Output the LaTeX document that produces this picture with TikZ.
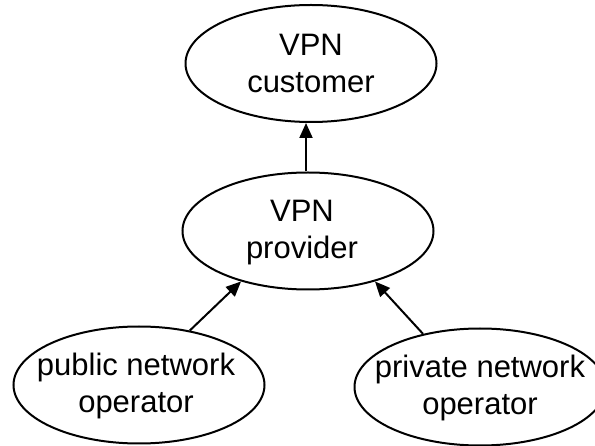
\documentclass[tikz,border=0pt]{standalone}
\usepackage{fontspec}
\setmainfont{Liberation Sans}
\usetikzlibrary{shapes.geometric,arrows.meta}
\begin{document}
\begin{tikzpicture}[x=1pt,y=-1pt,
  role/.style={ellipse,draw,line width=2pt,minimum width=251pt,minimum height=117pt,
    inner sep=0pt},
  caption/.style={align=center,inner sep=0pt,font=\fontsize{31}{37}\selectfont},
  link/.style={line width=2pt,-{Triangle[length=15pt,width=13pt]}}]
\useasboundingbox (0,0) rectangle (595,446);
% ellipses of fixed size, with their texts set on top
\node[role] (cust) at (311,63.5) {};
\node[caption] (cust-t) at (cust.center) {VPN\\customer};
\node[role] (prov) at (308,231) {};
\node[caption] (prov-t) at (302,233) {VPN\\provider};
\node[role] (pub)  at (139,385) {};
\node[caption] (pub-t) at (136,386) {public network\\operator};
\node[role] (priv) at (480,387) {};
\node[caption] (priv-t) at (480,388) {private network\\operator};
% connectors
\draw[link] (prov.north -| 306,0) -- (cust.south -| 306,0);
\draw[link] (pub.47.7) -- (prov.217.7);
\draw[link] (priv.137) -- (prov.323.5);
\end{tikzpicture}
\end{document}
